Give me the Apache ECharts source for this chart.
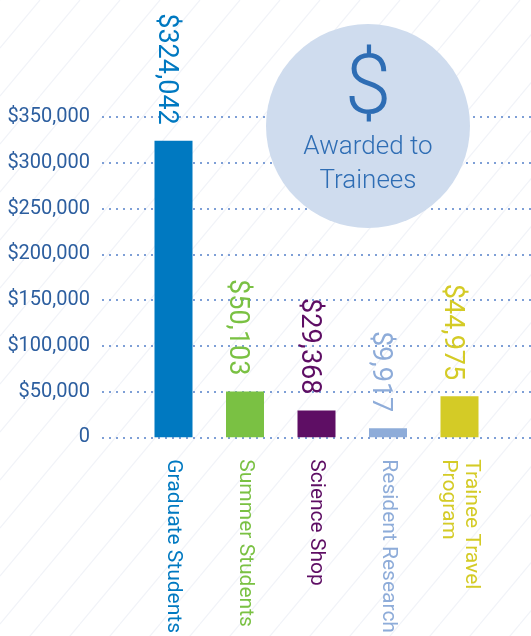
<!DOCTYPE html>
<html>
<head>
<meta charset="utf-8">
<script src="https://cdn.jsdelivr.net/npm/echarts@6/dist/echarts.min.js"></script>
<style>
html,body{margin:0;padding:0;background:#fff;}
#chart{width:531px;height:636px;}
</style>
</head>
<body>
<div id="chart"></div>
<script>
// ---- data ----
const categories = ['Graduate Students', 'Summer Students', 'Science Shop', 'Resident Research', 'Trainee Travel\nProgram'];
const values = [324042, 50103, 29368, 9917, 44975];
const yTicks = [0, 50000, 100000, 150000, 200000, 250000, 300000, 350000];
const badgeSymbol = '$';
const badgeText = 'Awarded to\nTrainees';

// ---- styles ----
const barColors = ['#0079C1', '#7AC143', '#5E0E64', '#8EACD9', '#D4CB26'];
const axisBlue = '#2C5E9F';
const FONT = 'Roboto';

// padded category list so the value axis grid spans wider than the bars
const paddedCats = [''].concat(categories, ['']);
const paddedVals = [null].concat(values, [null]);

// striped background pattern
function makePattern() {
  const w = 40, h = 48;
  const c = document.createElement('canvas');
  c.width = w; c.height = h;
  const ctx = c.getContext('2d');
  ctx.fillStyle = '#ffffff';
  ctx.fillRect(0, 0, w, h);
  ctx.strokeStyle = '#F1F3F8';
  ctx.lineWidth = 1.2;
  for (let k = -1; k <= 1; k++) {
    ctx.beginPath();
    ctx.moveTo(k * w, h);
    ctx.lineTo((k + 1) * w, 0);
    ctx.stroke();
  }
  return c;
}

const chart = echarts.init(document.getElementById('chart'), null, {renderer: 'canvas'});

const fmtMoney = v => '$' + Number(v).toLocaleString('en-US');

chart.setOption({
  backgroundColor: {image: makePattern(), repeat: 'repeat'},
  animation: false,
  grid: {left: 102, right: -2, top: 117, height: 321, containLabel: false},
  xAxis: {
    type: 'category',
    data: paddedCats,
    boundaryGap: false,
    axisLine: {show: false},
    axisTick: {show: false},
    splitLine: {show: false},
    axisLabel: {
      interval: 0,
      rotate: -90,
      margin: 22,
      fontFamily: FONT,
      fontSize: 21,
      lineHeight: 23,
      color: (val, idx) => barColors[(idx - 1 + barColors.length) % barColors.length]
    }
  },
  yAxis: {
    type: 'value',
    min: yTicks[0],
    max: yTicks[yTicks.length - 1],
    interval: yTicks[1] - yTicks[0],
    axisLine: {show: false},
    axisTick: {show: false},
    axisLabel: {
      margin: 12,
      fontFamily: FONT,
      fontSize: 20,
      color: axisBlue,
      formatter: v => v === 0 ? '0' : fmtMoney(v)
    },
    splitLine: {
      show: true,
      lineStyle: {color: '#7E9FD6', width: 2, type: [2, 5]}
    }
  },
  series: [{
    type: 'bar',
    data: paddedVals,
    barWidth: 38,
    z: 3,
    itemStyle: {
      color: p => barColors[(p.dataIndex - 1 + barColors.length) % barColors.length]
    },
    label: {
      show: true,
      position: 'top',
      distance: 16,
      rotate: -90,
      align: 'right',
      verticalAlign: 'middle',
      offset: [0, 8],
      fontFamily: FONT,
      fontSize: 27,
      color: 'inherit',
      formatter: p => p.value == null ? '' : fmtMoney(p.value)
    }
  }],
  graphic: [
    {
      type: 'circle',
      shape: {cx: 368, cy: 126, r: 102},
      style: {fill: '#CFDCEE'},
      z: 10
    },
    {
      type: 'text',
      x: 368, y: 92,
      style: {
        text: badgeSymbol,
        fill: '#2E6DB4',
        font: '300 84px ' + FONT,
        align: 'center',
        verticalAlign: 'middle'
      },
      z: 11
    },
    {
      type: 'text',
      x: 368, y: 164,
      style: {
        text: badgeText,
        fill: '#2E6DB4',
        font: '300 26px ' + FONT,
        lineHeight: 34,
        align: 'center',
        verticalAlign: 'middle'
      },
      z: 11
    }
  ]
});
</script>
</body>
</html>
